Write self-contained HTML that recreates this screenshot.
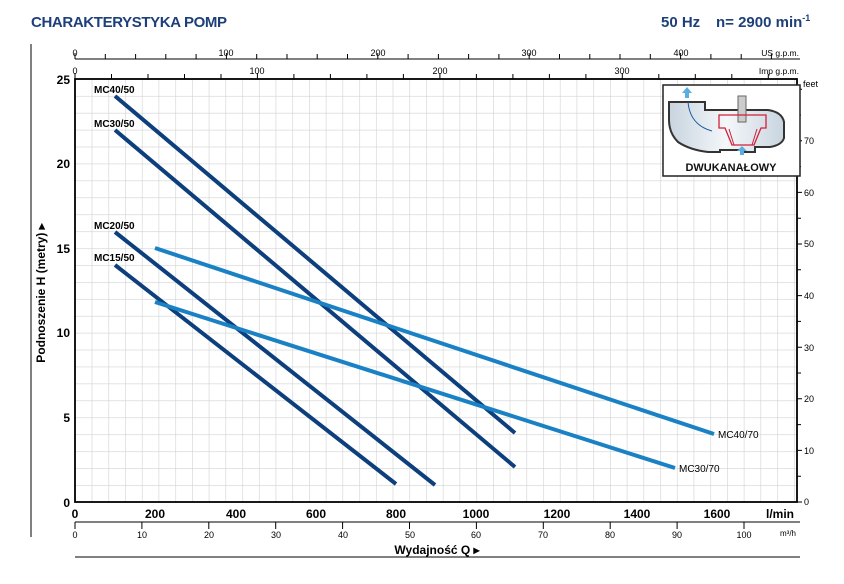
<!DOCTYPE html>
<html><head><meta charset="utf-8"><style>
html,body{margin:0;padding:0;background:#fff}
svg{display:block;font-family:"Liberation Sans",sans-serif}
.c{font-family:"Liberation Sans",sans-serif}
</style></head><body>
<svg width="844" height="584" viewBox="0 0 844 584" xmlns="http://www.w3.org/2000/svg">
<defs>
<pattern id="g" x="75" y="79" width="16.72" height="16.92" patternUnits="userSpaceOnUse">
<path d="M0 0V16.92M0 0H16.72" stroke="#d2d2d2" stroke-width="1.2" fill="none"/>
</pattern>
<linearGradient id="bg" x1="0" y1="0" x2="1" y2="0"><stop offset="0" stop-color="#c8d4df"/><stop offset="0.5" stop-color="#f4f7fa"/><stop offset="1" stop-color="#c8d4df"/></linearGradient>
</defs>
<text x="31" y="27" font-size="15" font-weight="bold" fill="#1d3f7a" transform="scale(1,1)" textLength="196">CHARAKTERYSTYKA POMP</text>
<text x="661" y="27" font-size="15" font-weight="bold" fill="#1d3f7a">50 Hz</text>
<text x="716" y="27" font-size="15" font-weight="bold" fill="#1d3f7a">n= 2900 min<tspan font-size="9" dy="-6">-1</tspan></text>
<line x1="31" y1="44" x2="31" y2="537" stroke="#000" stroke-width="1"/>
<rect x="75" y="79" width="722" height="423" fill="url(#g)"/>
<!-- US gpm -->
<g stroke="#000" stroke-width="1">
<line x1="75" y1="59" x2="800" y2="59"/>
<path d="M75 59v-6M105.3 59v-5M135.6 59v-5M165.8 59v-5M196.1 59v-5M226.4 59v-6M256.7 59v-5M287 59v-5M317.2 59v-5M347.5 59v-5M377.8 59v-6M408.1 59v-5M438.4 59v-5M468.6 59v-5M498.9 59v-5M529.2 59v-6M559.5 59v-5M589.8 59v-5M620 59v-5M650.3 59v-5M680.6 59v-6M710.9 59v-5M741.2 59v-5M771.4 59v-5"/>
<path d="M75 79v-6M111.5 79v-5M148 79v-5M184.5 79v-5M221 79v-5M257.4 79v-6M293.9 79v-5M330.4 79v-5M366.9 79v-5M403.4 79v-5M439.9 79v-6M476.4 79v-5M512.9 79v-5M549.4 79v-5M585.9 79v-5M622.3 79v-6M658.8 79v-5M695.3 79v-5M731.8 79v-5M768.3 79v-5"/>
</g>
<g font-size="9" fill="#000" text-anchor="middle">
<text x="75" y="56">0</text><text x="226" y="56">100</text><text x="378" y="56">200</text><text x="529" y="56">300</text><text x="681" y="56">400</text>
<text x="75" y="74">0</text><text x="257" y="74">100</text><text x="440" y="74">200</text><text x="622" y="74">300</text>
</g>
<g font-size="8.5" fill="#000" text-anchor="end">
<text x="799" y="56">US g.p.m.</text><text x="799" y="74">Imp g.p.m.</text>
</g>
<!-- frame -->
<rect x="75" y="79" width="722" height="423" fill="none" stroke="#000" stroke-width="1.8"/>
<!-- right feet axis -->
<g stroke="#000" stroke-width="1">
<path d="M797 502h5M797 476.2h4M797 450.4h5M797 424.6h4M797 398.8h5M797 373h4M797 347.2h5M797 321.4h4M797 295.6h5M797 269.8h4M797 244h5M797 218.2h4M797 192.4h5M797 166.6h4M797 140.8h5M797 115h4M797 89.2h5"/>
</g>
<g font-size="9" fill="#000">
<text x="804" y="505">0</text><text x="804" y="454">10</text><text x="804" y="402">20</text><text x="804" y="351">30</text><text x="804" y="299">40</text><text x="804" y="247">50</text><text x="804" y="196">60</text><text x="804" y="144">70</text>
<text x="803" y="87">feet</text>
</g>
<!-- left labels -->
<g font-size="12" font-weight="bold" fill="#000" text-anchor="end">
<text x="70" y="84">25</text><text x="70" y="168">20</text><text x="70" y="253">15</text><text x="70" y="337">10</text><text x="70" y="422">5</text><text x="70" y="507">0</text>
</g>
<text transform="translate(45,293) rotate(-90)" font-size="12" font-weight="bold" text-anchor="middle" fill="#000">Podnoszenie H  (metry) ▸</text>
<!-- bottom l/min -->
<g font-size="12" font-weight="bold" fill="#000" text-anchor="middle">
<text x="75" y="518">0</text><text x="155" y="518">200</text><text x="236" y="518">400</text><text x="316" y="518">600</text><text x="396" y="518">800</text><text x="476" y="518">1000</text><text x="557" y="518">1200</text><text x="637" y="518">1400</text><text x="717" y="518">1600</text>
<text x="780" y="518">l/min</text>
</g>
<g stroke="#000" stroke-width="1">
<line x1="75" y1="522" x2="800" y2="522"/>
<path d="M75 522v7M141.9 522v7M208.8 522v7M275.7 522v7M342.6 522v7M409.5 522v7M476.4 522v7M543.3 522v7M610.2 522v7M677.1 522v7M744 522v7"/>
<line x1="75" y1="557" x2="800" y2="557"/>
</g>
<g font-size="9" fill="#000" text-anchor="middle">
<text x="75" y="538">0</text><text x="142" y="538">10</text><text x="209" y="538">20</text><text x="276" y="538">30</text><text x="343" y="538">40</text><text x="410" y="538">50</text><text x="476" y="538">60</text><text x="543" y="538">70</text><text x="610" y="538">80</text><text x="677" y="538">90</text><text x="744" y="538">100</text>
<text x="788" y="536" font-size="8">m³/h</text>
</g>
<text x="437" y="554" font-size="12" font-weight="bold" text-anchor="middle" fill="#000">Wydajność Q ▸</text>
<!-- curves -->
<g stroke-width="4" stroke-linecap="butt" fill="none">
<line x1="115" y1="96" x2="515" y2="433" stroke="#0d3f7c"/>
<line x1="115" y1="130" x2="515" y2="467" stroke="#0d3f7c"/>
<line x1="115" y1="232" x2="435" y2="485" stroke="#0d3f7c"/>
<line x1="115" y1="265" x2="396" y2="484" stroke="#0d3f7c"/>
<line x1="155" y1="248" x2="714" y2="434" stroke="#1a82c4"/>
<line x1="155" y1="302" x2="675" y2="468" stroke="#1a82c4"/>
</g>
<g font-size="10" font-weight="bold" fill="#000">
<text x="94" y="93">MC40/50</text><text x="94" y="127">MC30/50</text><text x="94" y="229">MC20/50</text><text x="94" y="261">MC15/50</text>
</g>
<g font-size="10" fill="#000">
<text x="718" y="438">MC40/70</text><text x="679" y="472">MC30/70</text>
</g>
<!-- inset -->
<rect x="663" y="85" width="137" height="91" fill="#fff" stroke="#222" stroke-width="1.5"/>
<path d="M669 102H705V110H768Q782 112 784 122V138Q782 145 770 147H755V152H743V150H720V152H708Q690 150 678 142Q669 133 669 120Z" fill="url(#bg)" stroke="#333" stroke-width="2"/>
<rect x="738" y="96" width="8" height="26" fill="#ccc" stroke="#666"/>
<path d="M719 115H766V128H761L754 145H732L725 128H719Z" fill="none" stroke="#d0203a" stroke-width="1.3"/>
<path d="M729 129L734 145M757 129L752 145" stroke="#d0203a" stroke-width="1"/>
<path d="M688 102Q690 125 712 131" stroke="#1d5aa0" stroke-width="1" fill="none"/>
<path d="M687 87l-5 6h3v5h4v-5h3z" fill="#5aaee0"/>
<path d="M742 146l-5 5h3v4h4v-4h3z" fill="#5aaee0"/>
<text x="731" y="171" font-size="11" font-weight="bold" text-anchor="middle" fill="#111">DWUKANAŁOWY</text>
</svg>
</body></html>
